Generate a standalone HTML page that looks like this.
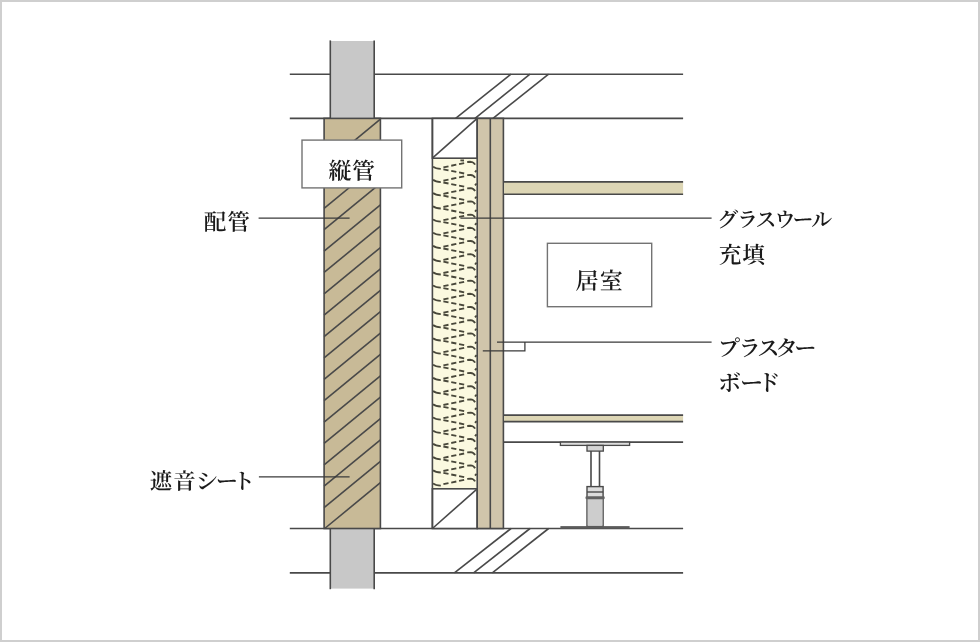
<!DOCTYPE html>
<html lang="ja">
<head>
<meta charset="utf-8">
<title>配管遮音構造図</title>
<style>
html,body{margin:0;padding:0;background:#fff;}
body{width:980px;height:642px;overflow:hidden;position:relative;}
.frame{position:absolute;left:0;top:0;width:980px;height:642px;box-sizing:border-box;border:2px solid #cfcfcf;background:#fff;}
svg{position:absolute;left:0;top:0;display:block;}
svg{will-change:transform;}
.t{text-rendering:geometricPrecision;}
.t text{font-family:"Liberation Serif","Noto Serif CJK SC",serif;font-weight:600;fill:#1a1a1a;}
</style>
</head>
<body>
<div class="frame"></div>
<svg width="980" height="642" viewBox="0 0 980 642">
<g fill="none" stroke="#494949" stroke-width="1.6" stroke-linecap="butt">
<line x1="289.8" y1="74.2" x2="683.1" y2="74.2"/>
<line x1="289.8" y1="118.4" x2="683.1" y2="118.4"/>
<line x1="289.8" y1="528.5" x2="683.1" y2="528.5"/>
<line x1="289.8" y1="572.85" x2="683.1" y2="572.85"/>
<line x1="455.6" y1="118.4" x2="511.0" y2="74.2"/>
<line x1="475.0" y1="118.4" x2="530.0" y2="74.2"/>
<line x1="493.0" y1="118.4" x2="548.6" y2="74.2"/>
<line x1="454.4" y1="572.85" x2="511.0" y2="528.5"/>
<line x1="473.6" y1="572.85" x2="530.0" y2="528.5"/>
<line x1="492.3" y1="572.85" x2="548.6" y2="528.5"/>
<rect x="330.3" y="41" width="43.9" height="77.4" fill="#c8c8c8" stroke="none"/>
<rect x="330.3" y="528.5" width="43.9" height="60.1" fill="#c8c8c8" stroke="none"/>
<line x1="330.3" y1="40.4" x2="330.3" y2="118.4"/>
<line x1="330.3" y1="528.5" x2="330.3" y2="589.2"/>
<line x1="374.2" y1="40.4" x2="374.2" y2="118.4"/>
<line x1="374.2" y1="528.5" x2="374.2" y2="589.2"/>
<rect x="324.1" y="118.4" width="56.3" height="410.1" fill="#c8ba97"/>
<line x1="324.71" y1="528.5" x2="380.4" y2="482.7"/>
<line x1="324.1" y1="507.62" x2="380.4" y2="461.32"/>
<line x1="324.1" y1="486.24" x2="380.4" y2="439.94"/>
<line x1="324.1" y1="464.86" x2="380.4" y2="418.56"/>
<line x1="324.1" y1="443.48" x2="380.4" y2="397.18"/>
<line x1="324.1" y1="422.1" x2="380.4" y2="375.8"/>
<line x1="324.1" y1="400.72" x2="380.4" y2="354.42"/>
<line x1="324.1" y1="379.34" x2="380.4" y2="333.04"/>
<line x1="324.1" y1="357.96" x2="380.4" y2="311.66"/>
<line x1="324.1" y1="336.58" x2="380.4" y2="290.28"/>
<line x1="324.1" y1="315.2" x2="380.4" y2="268.9"/>
<line x1="324.1" y1="293.82" x2="380.4" y2="247.52"/>
<line x1="324.1" y1="272.44" x2="380.4" y2="226.14"/>
<line x1="324.1" y1="251.06" x2="380.4" y2="204.76"/>
<line x1="324.1" y1="229.68" x2="380.4" y2="183.38"/>
<line x1="324.1" y1="208.3" x2="380.4" y2="162"/>
<line x1="324.1" y1="186.92" x2="380.4" y2="140.62"/>
<line x1="324.1" y1="165.54" x2="380.4" y2="119.24"/>
<rect x="432.4" y="158.2" width="44.8" height="330.6" fill="#fbf9e0" stroke="none"/>
<g fill="none" stroke="#48473a" stroke-width="1.85">
<path d="M433,166.6 Q435.6,168.8 440.8,168.9 M433,179.8 Q435.6,182 440.8,182.1 M433,193 Q435.6,195.2 440.8,195.3 M433,206.2 Q435.6,208.4 440.8,208.5 M433,219.4 Q435.6,221.6 440.8,221.7 M433,232.6 Q435.6,234.8 440.8,234.9 M433,245.8 Q435.6,248 440.8,248.1 M433,259 Q435.6,261.2 440.8,261.3 M433,272.2 Q435.6,274.4 440.8,274.5 M433,285.4 Q435.6,287.6 440.8,287.7 M433,298.6 Q435.6,300.8 440.8,300.9 M433,311.8 Q435.6,314 440.8,314.1 M433,325 Q435.6,327.2 440.8,327.3 M433,338.2 Q435.6,340.4 440.8,340.5 M433,351.4 Q435.6,353.6 440.8,353.7 M433,364.6 Q435.6,366.8 440.8,366.9 M433,377.8 Q435.6,380 440.8,380.1 M433,391 Q435.6,393.2 440.8,393.3 M433,404.2 Q435.6,406.4 440.8,406.5 M433,417.4 Q435.6,419.6 440.8,419.7 M433,430.6 Q435.6,432.8 440.8,432.9 M433,443.8 Q435.6,446 440.8,446.1 M433,457 Q435.6,459.2 440.8,459.3 M433,470.2 Q435.6,472.4 440.8,472.5 M433,483.4 Q435.6,485.6 440.8,485.7"/>
<path d="M443.4,167.4 L464.6,163 M443.4,169.3 L464.2,173.5 M443.4,180.6 L464.6,176.2 M443.4,182.5 L464.2,186.7 M443.4,193.8 L464.6,189.4 M443.4,195.7 L464.2,199.9 M443.4,207 L464.6,202.6 M443.4,208.9 L464.2,213.1 M443.4,220.2 L464.6,215.8 M443.4,222.1 L464.2,226.3 M443.4,233.4 L464.6,229 M443.4,235.3 L464.2,239.5 M443.4,246.6 L464.6,242.2 M443.4,248.5 L464.2,252.7 M443.4,259.8 L464.6,255.4 M443.4,261.7 L464.2,265.9 M443.4,273 L464.6,268.6 M443.4,274.9 L464.2,279.1 M443.4,286.2 L464.6,281.8 M443.4,288.1 L464.2,292.3 M443.4,299.4 L464.6,295 M443.4,301.3 L464.2,305.5 M443.4,312.6 L464.6,308.2 M443.4,314.5 L464.2,318.7 M443.4,325.8 L464.6,321.4 M443.4,327.7 L464.2,331.9 M443.4,339 L464.6,334.6 M443.4,340.9 L464.2,345.1 M443.4,352.2 L464.6,347.8 M443.4,354.1 L464.2,358.3 M443.4,365.4 L464.6,361 M443.4,367.3 L464.2,371.5 M443.4,378.6 L464.6,374.2 M443.4,380.5 L464.2,384.7 M443.4,391.8 L464.6,387.4 M443.4,393.7 L464.2,397.9 M443.4,405 L464.6,400.6 M443.4,406.9 L464.2,411.1 M443.4,418.2 L464.6,413.8 M443.4,420.1 L464.2,424.3 M443.4,431.4 L464.6,427 M443.4,433.3 L464.2,437.5 M443.4,444.6 L464.6,440.2 M443.4,446.5 L464.2,450.7 M443.4,457.8 L464.6,453.4 M443.4,459.7 L464.2,463.9 M443.4,471 L464.6,466.6 M443.4,472.9 L464.2,477.1 M443.4,484.2 L464.6,479.8 M460.4,160.3 L464,160.5" stroke-dasharray="5.2 2.8"/>
<path d="M467.2,162 L470.6,161.8 Q473.6,161.9 475.1,164.6 M475,172.1 L476.6,170.3 M467.2,175.2 L470.6,175 Q473.6,175.1 475.1,177.8 M475,185.3 L476.6,183.5 M467.2,188.4 L470.6,188.2 Q473.6,188.3 475.1,191 M475,198.5 L476.6,196.7 M467.2,201.6 L470.6,201.4 Q473.6,201.5 475.1,204.2 M475,211.7 L476.6,209.9 M467.2,214.8 L470.6,214.6 Q473.6,214.7 475.1,217.4 M475,224.9 L476.6,223.1 M467.2,228 L470.6,227.8 Q473.6,227.9 475.1,230.6 M475,238.1 L476.6,236.3 M467.2,241.2 L470.6,241 Q473.6,241.1 475.1,243.8 M475,251.3 L476.6,249.5 M467.2,254.4 L470.6,254.2 Q473.6,254.3 475.1,257 M475,264.5 L476.6,262.7 M467.2,267.6 L470.6,267.4 Q473.6,267.5 475.1,270.2 M475,277.7 L476.6,275.9 M467.2,280.8 L470.6,280.6 Q473.6,280.7 475.1,283.4 M475,290.9 L476.6,289.1 M467.2,294 L470.6,293.8 Q473.6,293.9 475.1,296.6 M475,304.1 L476.6,302.3 M467.2,307.2 L470.6,307 Q473.6,307.1 475.1,309.8 M475,317.3 L476.6,315.5 M467.2,320.4 L470.6,320.2 Q473.6,320.3 475.1,323 M475,330.5 L476.6,328.7 M467.2,333.6 L470.6,333.4 Q473.6,333.5 475.1,336.2 M475,343.7 L476.6,341.9 M467.2,346.8 L470.6,346.6 Q473.6,346.7 475.1,349.4 M475,356.9 L476.6,355.1 M467.2,360 L470.6,359.8 Q473.6,359.9 475.1,362.6 M475,370.1 L476.6,368.3 M467.2,373.2 L470.6,373 Q473.6,373.1 475.1,375.8 M475,383.3 L476.6,381.5 M467.2,386.4 L470.6,386.2 Q473.6,386.3 475.1,389 M475,396.5 L476.6,394.7 M467.2,399.6 L470.6,399.4 Q473.6,399.5 475.1,402.2 M475,409.7 L476.6,407.9 M467.2,412.8 L470.6,412.6 Q473.6,412.7 475.1,415.4 M475,422.9 L476.6,421.1 M467.2,426 L470.6,425.8 Q473.6,425.9 475.1,428.6 M475,436.1 L476.6,434.3 M467.2,439.2 L470.6,439 Q473.6,439.1 475.1,441.8 M475,449.3 L476.6,447.5 M467.2,452.4 L470.6,452.2 Q473.6,452.3 475.1,455 M475,462.5 L476.6,460.7 M467.2,465.6 L470.6,465.4 Q473.6,465.5 475.1,468.2 M475,475.7 L476.6,473.9 M467.2,478.8 L470.6,478.6 Q473.6,478.7 475.1,481.4"/>
</g>
<rect x="432.4" y="118.4" width="44.8" height="39.8" fill="#fff"/>
<line x1="432.4" y1="158.2" x2="477.2" y2="118.4"/>
<rect x="432.4" y="488.8" width="44.8" height="39.7" fill="#fff"/>
<line x1="432.4" y1="528.5" x2="477.2" y2="488.8"/>
<line x1="432.4" y1="118.4" x2="432.4" y2="528.5"/>
<rect x="477.2" y="118.4" width="26.2" height="410.1" fill="#d0c5ab"/>
<line x1="490.3" y1="118.4" x2="490.3" y2="528.5"/>
<rect x="504.2" y="181.9" width="178.9" height="12.4" fill="#ddd6b5" stroke="none"/>
<line x1="503.4" y1="181.9" x2="683.1" y2="181.9"/>
<line x1="503.4" y1="194.3" x2="683.1" y2="194.3"/>
<rect x="504.2" y="415.1" width="178.9" height="6.5" fill="#ddd6b5" stroke="none"/>
<line x1="503.4" y1="415.1" x2="683.1" y2="415.1"/>
<line x1="503.4" y1="421.6" x2="683.1" y2="421.6"/>
<line x1="503.4" y1="442.1" x2="683.1" y2="442.1"/>
<rect x="560.4" y="442.1" width="69.2" height="3.3" fill="#dedede" stroke-width="1.3"/>
<rect x="587" y="445.4" width="16.3" height="5.7" fill="#d4d4d4" stroke-width="1.3"/>
<path d="M591,451.1 V486.6 M599.5,451.1 V486.6" stroke-width="1.6"/>
<rect x="587" y="486.6" width="16.1" height="39.7" fill="#dcdcdc" stroke-width="1.4"/>
<rect x="587.7" y="499" width="14.7" height="26.8" fill="#cdcdcd" stroke="none"/>
<line x1="587" y1="492" x2="603.1" y2="492" stroke-width="1.4"/>
<rect x="585.5" y="496.2" width="19.2" height="3" rx="1.2" fill="#626262" stroke="none"/>
<rect x="560.4" y="526.1" width="69.2" height="2.6" fill="#5c5c5c" stroke="none"/>
</g>

<g fill="none" stroke="#3a3a3a" stroke-width="1.25">
<line x1="258.6" y1="218.2" x2="349.6" y2="218.2"/>
<line x1="258.9" y1="476.9" x2="349.6" y2="476.9"/>
<line x1="460.4" y1="218.1" x2="711.6" y2="218.1"/>
<path d="M497,342.1 H711.6 M482.8,350.9 H524.9 V342.1"/>
</g>

<g fill="#fff" stroke="#737373" stroke-width="1.4">
<rect x="302" y="140.1" width="99.7" height="47.8"/>
<rect x="547.4" y="243.3" width="104.3" height="63.4"/>
</g>
<g class="t">
<text x="328.4 351.9" y="179" font-size="23">縦管</text>
<text x="575.56 599.64" y="288.6" font-size="23">居室</text>
<text x="203.84 227.15" y="230.1" font-size="22.7">配管</text>
<text x="149.8 173.14 195.78 215.75 232.74" y="488.9" font-size="22.4">遮音シート</text>
<text x="717.35 737.09 755.47 774.44 792.55 811.14" y="227.3" font-size="21">グラスウール</text>
<text x="718.79 742.19" y="262.9" font-size="22.8">充填</text>
<text x="717.8 738.43 757.2 775.62 794.2" y="355.9" font-size="22.3">プラスター</text>
<text x="718.02 740 757.39" y="391" font-size="23.2">ボード</text>
</g>
</svg>
</body>
</html>
